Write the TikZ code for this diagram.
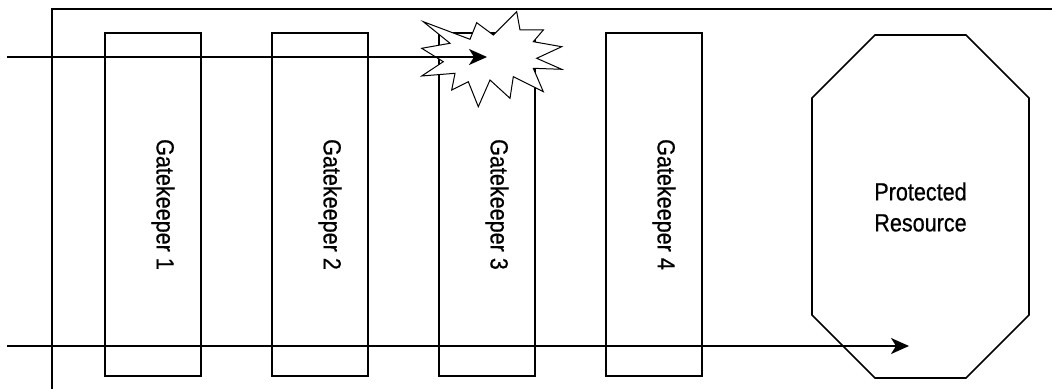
\documentclass[tikz,border=0pt]{standalone}
\usepackage{fontspec}
\setmainfont{Liberation Sans}[FakeStretch=0.87,FakeBold=0.6]
\usetikzlibrary{positioning,arrows.meta}

\begin{document}
\begin{tikzpicture}[x=0.5pt,y=-0.5pt,
  gatebox/.style={draw, line width=0.8pt, minimum width=48pt, minimum height=171.5pt, inner sep=0pt},
  gatetext/.style={rotate=-90, font=\fontsize{12.4}{15.5}\selectfont, inner sep=0pt},
  flow/.style={line width=1pt, -{Stealth[length=9pt,width=8pt,inset=2.5pt]}}]
\useasboundingbox (0,0) rectangle (1052,389);
% outer frame, cut off at right and bottom
\draw[line width=0.8pt] (52,389) -- (52,9) -- (1052,9);
% the four gatekeepers
\foreach \i in {1,...,4}{
  \node[gatebox] (gate\i) at (153+167*\i-167,204.5) {};
  \node[gatetext] (gatelabel\i) at ([xshift=5pt]gate\i.center) {Gatekeeper \i};
}
% protected resource
\draw[line width=0.8pt] (812,98) -- (875,35) -- (966,35) -- (1029,98)
  -- (1029,315) -- (966,378) -- (875,378) -- (812,315) -- cycle;
\node[font=\fontsize{12.4}{15.5}\selectfont, align=center] (resource) at (920.5,207) {Protected\\Resource};
% burst where the first request is stopped
\draw[line width=0.5pt, fill=white] (423.3,21.7) -- (470,39.3) -- (476.7,22.7) -- (493.3,35)
  -- (516.7,11.7) -- (520,30) -- (543.3,30) -- (533.3,41.7) -- (561.7,46.7)
  -- (536.7,58.3) -- (561.7,69.3) -- (533.3,68.3) -- (543.3,91.7) -- (513.3,76.7)
  -- (510,98.3) -- (490,80) -- (478.3,106.7) -- (468.3,81.7) -- (451.7,90)
  -- (455,73.3) -- (421.7,76) -- (443.3,61.7) -- (421.7,48.3) -- (450,43.3) -- cycle;
% requests
\coordinate (src1) at (7,57);
\coordinate (hit) at (487,57);
\coordinate (src2) at (7,346);
\coordinate (reach) at (909,346);
\draw[flow] (src1) -- (hit);
\draw[flow] (src2) -- (reach);
\end{tikzpicture}
\end{document}
